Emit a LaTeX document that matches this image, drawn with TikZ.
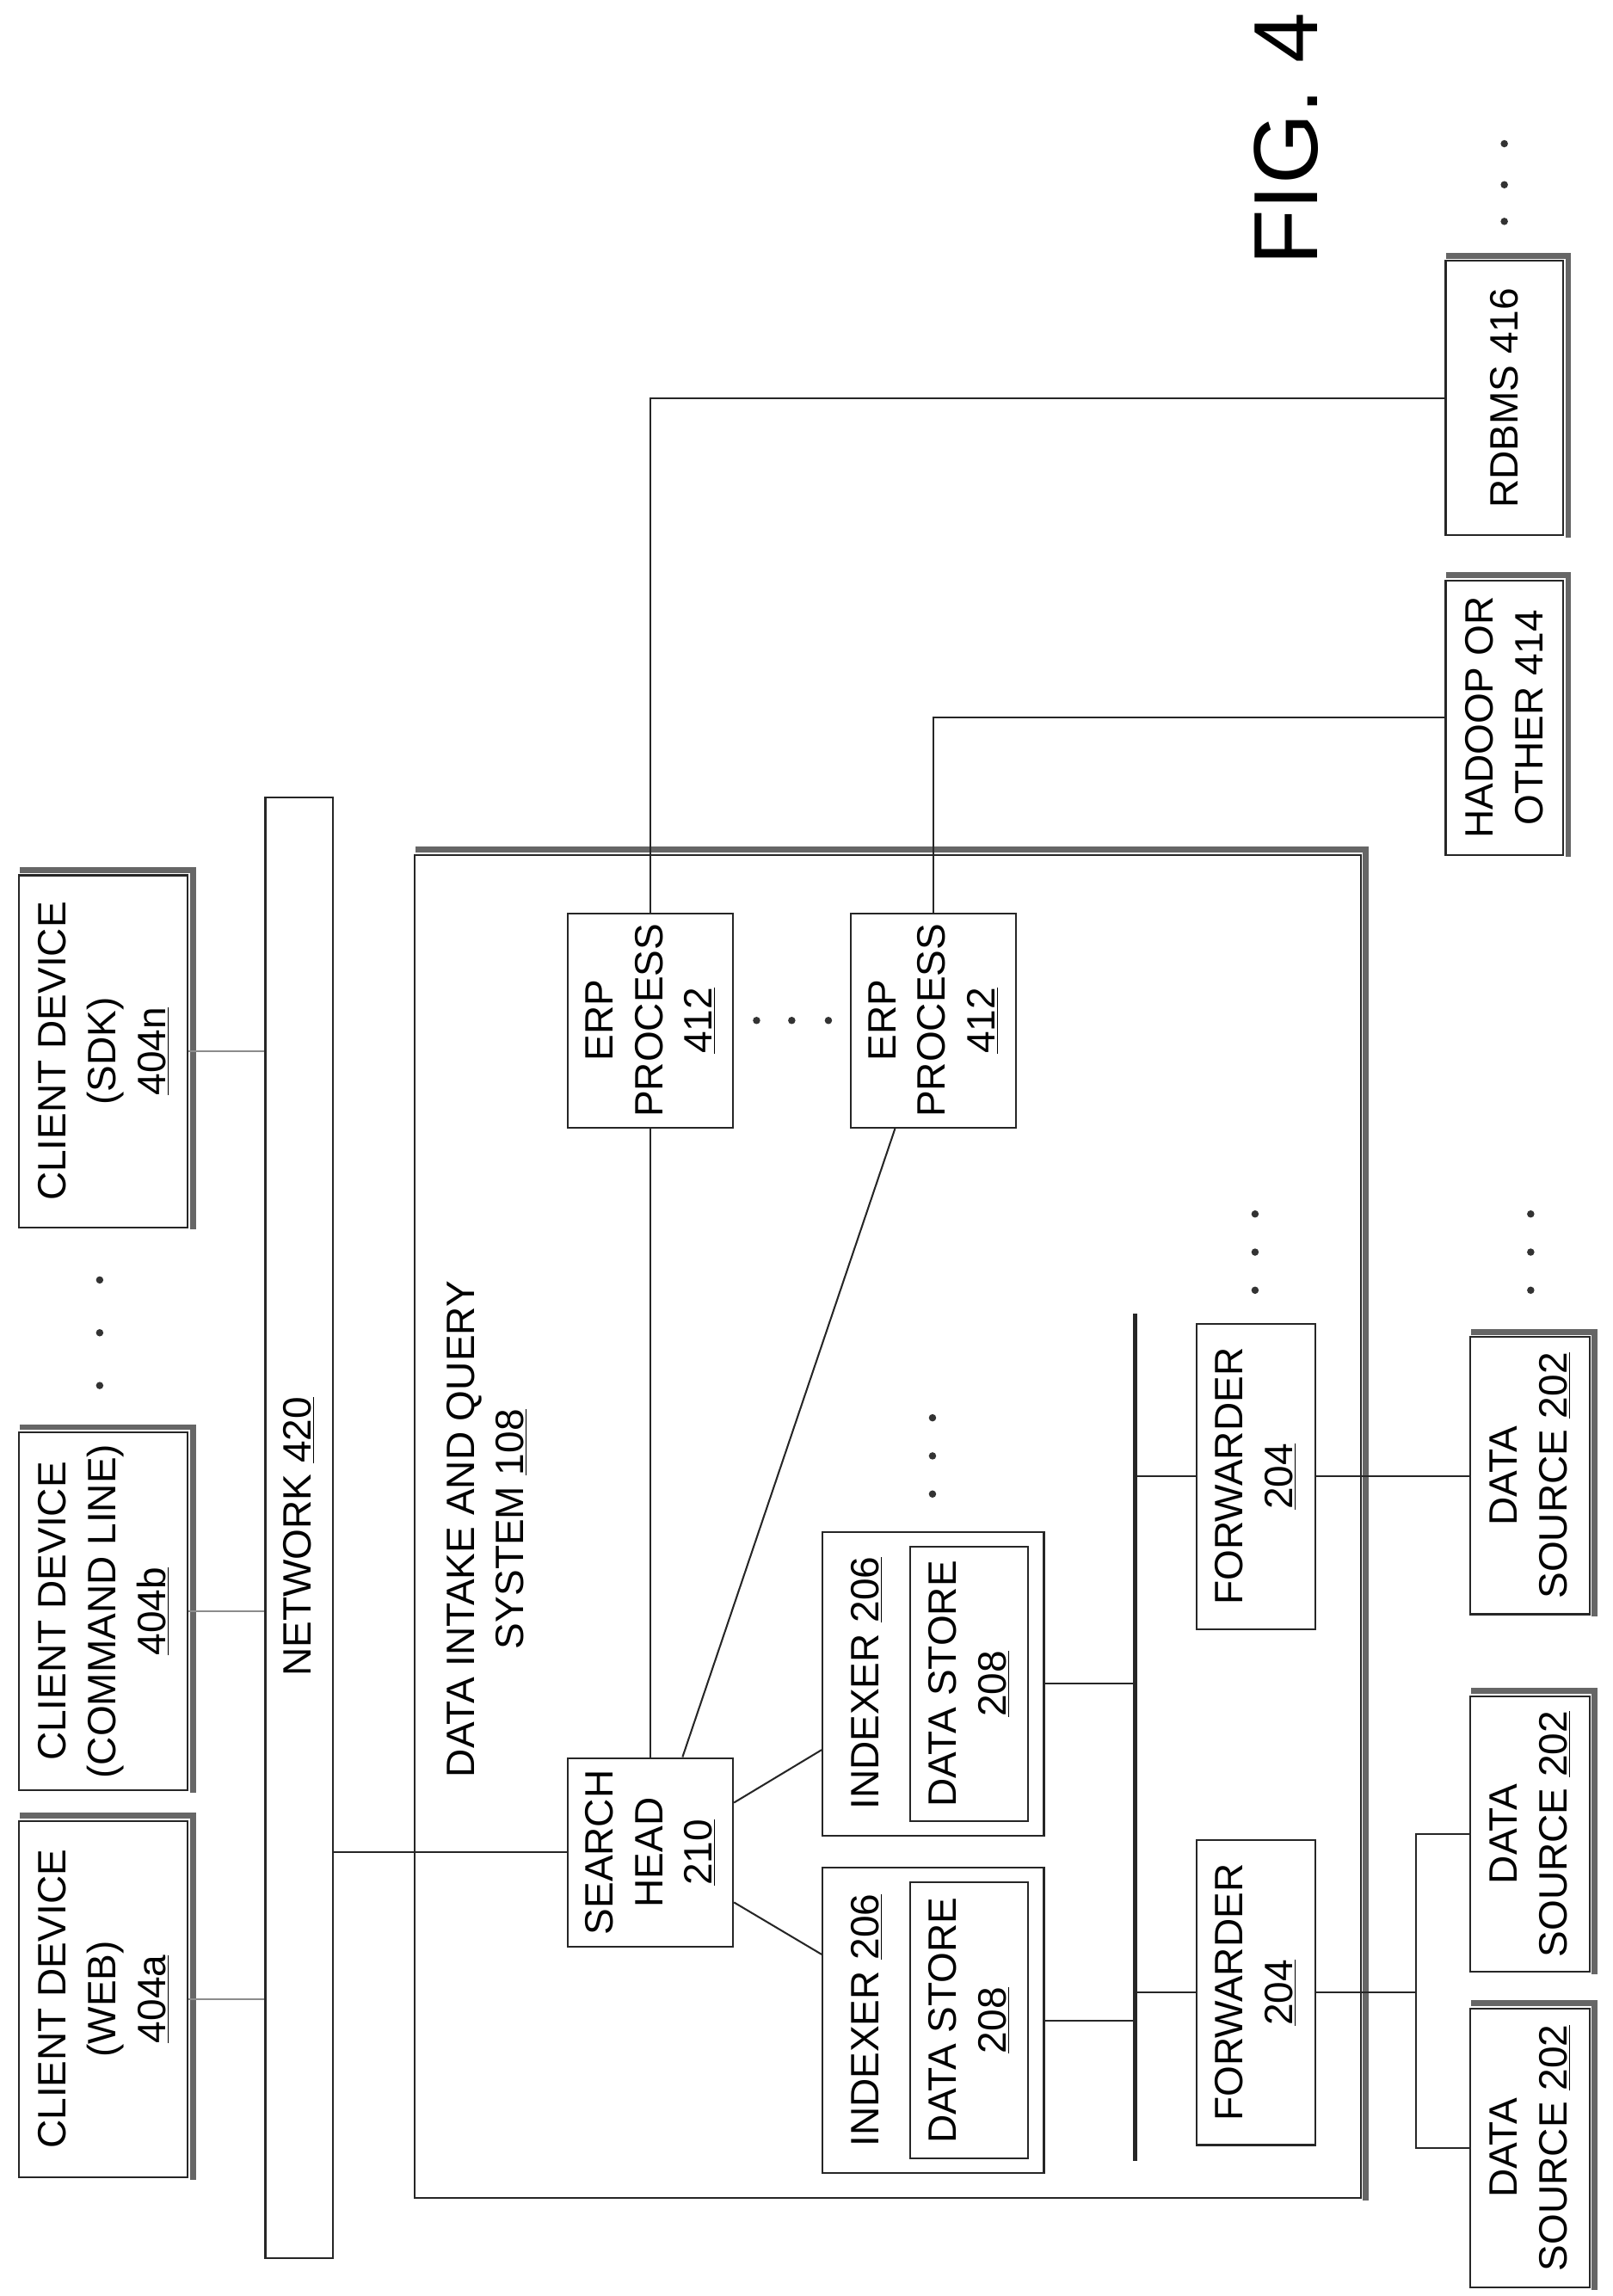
\documentclass[tikz,border=0pt]{standalone}
\usepackage{fontspec}
\setmainfont{Liberation Sans}
\begin{document}
\begin{tikzpicture}[x=1pt,y=-1pt,
  ln/.style={line width=1.2pt,draw=black!85},
  thinln/.style={line width=0.8pt,draw=black!45},
  bx/.style={rectangle,draw=black!85,line width=1.2pt,inner sep=0pt,fill=white},
  lbl/.style={rotate=90,align=center,font=\fontsize{27}{34}\selectfont,inner sep=0pt},
  shd/.style={line width=4pt,draw=black!60},
  dot/.style={circle,fill=black!80,inner sep=0pt,minimum size=5pt}]
\useasboundingbox (0,0) rectangle (1100,1566);
\newcommand\bx[5]{\node[bx,minimum width={#4-#2},minimum height={#5-#3}] (#1) at ({(#2+#4)/2},{(#3+#5)/2}) {};}
\newcommand\shd[1]{\draw[shd] ([shift={(1,-3)}]#1.north west) -- ([shift={(3,-3)}]#1.north east) -- ([shift={(3,1)}]#1.south east);}
% clients
\bx{web}{13}{1242}{128}{1485}\shd{web}
\bx{cmd}{13}{977}{128}{1221}\shd{cmd}
\bx{sdk}{13}{597}{128}{837}\shd{sdk}
\node[lbl] at (web) {CLIENT DEVICE\\(WEB)\\\underline{404a}};
\node[lbl] at (cmd) {CLIENT DEVICE\\(COMMAND LINE)\\\underline{404b}};
\node[lbl] at (sdk) {CLIENT DEVICE\\(SDK)\\\underline{404n}};
\node[dot] (cd1) at (68,873) {};\node[dot] (cd2) at (68,909) {};\node[dot] (cd3) at (68,945) {};
% network
\bx{net}{181}{544}{227}{1540}
\node[lbl] at (204,1048) {NETWORK \underline{420}};
\draw[thinln] (web) -- (web -| net.west);
\draw[thinln] (cmd) -- (cmd -| net.west);
\draw[thinln] (sdk) -- (sdk -| net.west);
% system
\bx{sys}{283}{583}{928}{1499}\shd{sys}
\node[lbl] at (332,1043) {DATA INTAKE AND QUERY\\SYSTEM \underline{108}};
\bx{sh}{387}{1199}{500}{1328}
\node[lbl] at (sh) {SEARCH\\HEAD\\\underline{210}};
\bx{erpa}{387}{623}{500}{769}
\bx{erpb}{580}{623}{693}{769}
\node[lbl] at (erpa) {ERP\\PROCESS\\\underline{412}};
\node[lbl] at (erpb) {ERP\\PROCESS\\\underline{412}};
\node[dot] (ed1) at (516,696) {};\node[dot] (ed2) at (540,696) {};\node[dot] (ed3) at (565,696) {};
\bx{idxa}{561}{1045}{712}{1252}
\bx{dsta}{621}{1055}{701}{1242}
\bx{idxb}{561}{1274}{712}{1482}
\bx{dstb}{621}{1284}{701}{1472}
\node[lbl] at (591,1148) {INDEXER \underline{206}};
\node[lbl] at (591,1378) {INDEXER \underline{206}};
\node[lbl] at (dsta) {DATA STORE\\\underline{208}};
\node[lbl] at (dstb) {DATA STORE\\\underline{208}};
\node[dot] (id1) at (636,967) {};\node[dot] (id2) at (636,993) {};\node[dot] (id3) at (636,1019) {};
\coordinate (bustop) at (774,896);
\coordinate (busbot) at (774,1474);
\draw[line width=3pt,black!85] (bustop) -- (busbot);
\bx{fwda}{816}{903}{897}{1111}
\bx{fwdb}{816}{1255}{897}{1463}
\node[lbl] at (fwda) {FORWARDER\\\underline{204}};
\node[lbl] at (fwdb) {FORWARDER\\\underline{204}};
\node[dot] (fd1) at (856,828) {};\node[dot] (fd2) at (856,854) {};\node[dot] (fd3) at (856,880) {};
% outside
\bx{srcc}{1003}{912}{1084}{1101}\shd{srcc}
\bx{srcb}{1003}{1157}{1084}{1345}\shd{srcb}
\bx{srca}{1003}{1370}{1084}{1560}\shd{srca}
\node[lbl] at (srcc) {DATA\\SOURCE \underline{202}};
\node[lbl] at (srcb) {DATA\\SOURCE \underline{202}};
\node[lbl] at (srca) {DATA\\SOURCE \underline{202}};
\node[dot] (sd1) at (1044,828) {};\node[dot] (sd2) at (1044,854) {};\node[dot] (sd3) at (1044,880) {};
\bx{had}{986}{396}{1066}{583}\shd{had}
\bx{rdb}{986}{178}{1066}{365}\shd{rdb}
\node[lbl] at (had) {HADOOP OR\\OTHER 414};
\node[lbl] at (rdb) {RDBMS 416};
\node[dot] (rd1) at (1026,98) {};\node[dot] (rd2) at (1026,126) {};\node[dot] (rd3) at (1026,151) {};
\node[rotate=90,font=\fontsize{62}{70}\selectfont,inner sep=0pt] (fig) at (877,95) {FIG. 4};
% connectors
\draw[ln] (sh.west) -- (sh.west -| net.east);
\draw[ln] (sh.north) -- (erpa.south);
\draw[ln] ([xshift=22]sh.north) -- ([xshift=-26]erpb.south);
\draw[ln] ([yshift=34]sh.east) -- ([yshift=-45]idxa.west);
\draw[ln] ([yshift=-34]sh.east) -- ([yshift=45]idxb.west);
\draw[ln] (erpa.north) |- (rdb.west);
\draw[ln] (erpb.north) |- (had.west);
\draw[ln] (idxa.east) -- (idxa.east -| bustop);
\draw[ln] (idxb.east) -- (idxb.east -| bustop);
\draw[ln] (fwda.west) -- (fwda.west -| bustop);
\draw[ln] (fwdb.west) -- (fwdb.west -| bustop);
\draw[ln] (fwda.east) -- (fwda.east -| srcc.west);
\coordinate (j) at (966,1359);
\draw[ln] (fwdb.east) -- (fwdb.east -| j);
\draw[ln] (srcb.west) -| (j);
\draw[ln] (srca.west) -| (j);
\end{tikzpicture}
\end{document}
